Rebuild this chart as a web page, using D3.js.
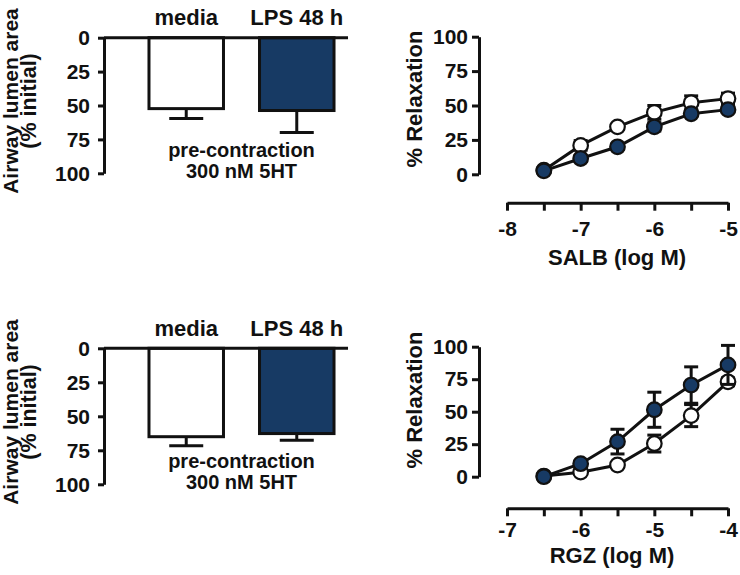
<!DOCTYPE html>
<html>
<head>
<meta charset="utf-8">
<script src="https://cdn.jsdelivr.net/npm/d3@7"></script>
<style>
  html, body { margin: 0; padding: 0; background: #fff; }
  svg text { font-family: "Liberation Sans", Arial, sans-serif; font-weight: bold; fill: #111; }
</style>
</head>
<body>
<svg id="chart" width="740" height="575"></svg>
<script>
// ---------- Data ----------
const barCategories = ["media", "LPS 48 h"];
const lumenTop = [52.3, 53.7];
const lumenTopErr = [7.3, 16.2];
const lumenBottom = [65, 62.7];
const lumenBottomErr = [6.6, 5];
const lumenTicks = [0, 25, 50, 75, 100];

const salbDoses = [-7.5, -7, -6.5, -6, -5.5, -5];
const salbMedia = [3, 21, 34.5, 45, 52, 55];
const salbMediaErr = [1, 3.5, 2, 5, 5, 4];
const salbLPS = [2.5, 11.5, 20, 34.5, 44, 47];
const salbLPSErr = [1.5, 2, 2, 3, 2, 2];
const salbTicks = [-8, -7, -6, -5];
const salbMinorTicks = [-8, -7.5, -7, -6.5, -6, -5.5, -5];

const rgzDoses = [-6.5, -6, -5.5, -5, -4.5, -4];
const rgzMedia = [0.5, 3.5, 9, 25.5, 47, 73];
const rgzMediaErr = [0.5, 1.5, 2, 6.5, 8.5, 3];
const rgzLPS = [0, 10, 27, 51.5, 70.5, 86];
const rgzLPSErr = [0.5, 2, 9.5, 13.5, 14, 15];
const rgzTicks = [-7, -6, -5, -4];
const rgzMinorTicks = [-7, -6.5, -6, -5.5, -5, -4.5, -4];

const relaxTicks = [0, 25, 50, 75, 100];

const NAVY = "#173a64";
const svg = d3.select("#chart");

// ---------- Bar panels ----------
function barPanel(opts) {
  const g = svg.append("g");
  const y = d3.scaleLinear().domain([0, 100]).range(opts.yRange);
  const x = d3.scaleBand().domain(barCategories).range([104, 379])
    .paddingInner(0.326).paddingOuter(0.407);
  const baseEnd = x(barCategories[1]) + x.bandwidth() + 14;

  const yAxis = d3.axisLeft(y).tickValues(lumenTicks).tickSize(6).tickPadding(8).tickSizeOuter(0);
  const ay = g.append("g").attr("transform", "translate(104,0)").call(yAxis);
  ay.select(".domain").attr("stroke", "#111").attr("stroke-width", 3);
  ay.selectAll(".tick line").attr("stroke", "#111").attr("stroke-width", 3);
  ay.selectAll(".tick text").style("font-size", "21px").attr("fill", "#111");

  const data = barCategories.map((c, i) => ({ c, v: opts.values[i], e: opts.errs[i], fill: i === 0 ? "#fff" : NAVY }));

  // error bars (downward only)
  g.selectAll(".err").data(data).join("line")
    .attr("x1", d => x(d.c) + x.bandwidth() / 2).attr("x2", d => x(d.c) + x.bandwidth() / 2)
    .attr("y1", d => y(d.v)).attr("y2", d => y(d.v + d.e))
    .attr("stroke", "#111").attr("stroke-width", 3);
  g.selectAll(".cap").data(data).join("line")
    .attr("x1", d => x(d.c) + x.bandwidth() / 2 - 17).attr("x2", d => x(d.c) + x.bandwidth() / 2 + 17)
    .attr("y1", d => y(d.v + d.e)).attr("y2", d => y(d.v + d.e))
    .attr("stroke", "#111").attr("stroke-width", 3);

  g.selectAll(".bar").data(data).join("rect")
    .attr("x", d => x(d.c)).attr("width", x.bandwidth())
    .attr("y", y(0)).attr("height", d => y(d.v) - y(0))
    .attr("fill", d => d.fill).attr("stroke", "#111").attr("stroke-width", 3);

  // baseline
  g.append("line").attr("x1", 104).attr("x2", baseEnd)
    .attr("y1", y(0)).attr("y2", y(0)).attr("stroke", "#111").attr("stroke-width", 3);

  // category labels
  g.selectAll(".cat").data(data).join("text")
    .attr("x", d => x(d.c) + x.bandwidth() / 2).attr("y", y(0) - 12.5)
    .attr("text-anchor", "middle").style("font-size", "22px").text(d => d.c);

  const cx = (104 + 379) / 2;
  g.append("text").attr("x", cx).attr("y", y(88)).attr("text-anchor", "middle")
    .style("font-size", "20px").text("pre-contraction");
  g.append("text").attr("x", cx).attr("y", y(103.5)).attr("text-anchor", "middle")
    .style("font-size", "20px").text("300 nM 5HT");

  const cy = opts.labelCenter;
  g.append("text").attr("transform", `translate(17.5,${cy}) rotate(-90)`)
    .attr("text-anchor", "middle").style("font-size", "21px").text("Airway lumen area");
  g.append("text").attr("transform", `translate(35.5,${cy}) rotate(-90)`)
    .attr("text-anchor", "middle").style("font-size", "21.5px").text("(% initial)");
}

barPanel({ yRange: [37.7, 173.3], values: lumenTop, errs: lumenTopErr, labelCenter: 101 });
barPanel({ yRange: [348.3, 484.3], values: lumenBottom, errs: lumenBottomErr, labelCenter: 412 });

// ---------- Dose-response panels ----------
function dosePanel(opts) {
  const g = svg.append("g");
  const x = d3.scaleLinear().domain(opts.xDomain).range([507, 728]);
  const y = d3.scaleLinear().domain([0, 100]).range(opts.yRange);

  const yAxis = d3.axisLeft(y).tickValues(relaxTicks).tickSize(7).tickPadding(4).tickSizeOuter(0);
  const ay = g.append("g").attr("transform", "translate(479,0)").call(yAxis);
  ay.select(".domain").attr("stroke", "#111").attr("stroke-width", 3);
  ay.selectAll(".tick line").attr("stroke", "#111").attr("stroke-width", 3);
  ay.selectAll(".tick text").style("font-size", "21px").attr("fill", "#111");

  const xMinor = d3.axisBottom(x).tickValues(opts.minorTicks).tickSize(8).tickFormat("").tickSizeOuter(0);
  const axm = g.append("g").attr("transform", `translate(0,${opts.xAxisY})`).call(xMinor);
  axm.select(".domain").attr("stroke", "#111").attr("stroke-width", 3);
  axm.selectAll(".tick line").attr("stroke", "#111").attr("stroke-width", 3);

  const xAxis = d3.axisBottom(x).tickValues(opts.ticks).tickSize(0).tickPadding(opts.labelPad)
    .tickFormat(d => String(d));
  const ax = g.append("g").attr("transform", `translate(0,${opts.xAxisY})`).call(xAxis);
  ax.select(".domain").remove();
  ax.selectAll(".tick text").style("font-size", "21px").attr("fill", "#111");

  g.append("text").attr("x", opts.titleX).attr("y", opts.titleY).attr("text-anchor", "middle")
    .style("font-size", "22px").text(opts.title);
  g.append("text").attr("transform", `translate(422,${opts.yLabelCenter}) rotate(-90)`)
    .attr("text-anchor", "middle").style("font-size", "22px").text("% Relaxation");

  const line = d3.line().x(d => x(d.d)).y(d => y(d.v));

  opts.series.forEach(s => {
    const pts = opts.doses.map((d, i) => ({ d, v: s.values[i], e: s.errs[i] }));
    const sg = g.append("g");
    sg.selectAll(".eb").data(pts).join("line")
      .attr("x1", d => x(d.d)).attr("x2", d => x(d.d))
      .attr("y1", d => y(d.v - d.e)).attr("y2", d => y(d.v + d.e))
      .attr("stroke", "#111").attr("stroke-width", 3);
    sg.selectAll(".cu").data(pts).join("line")
      .attr("x1", d => x(d.d) - 7).attr("x2", d => x(d.d) + 7)
      .attr("y1", d => y(d.v + d.e)).attr("y2", d => y(d.v + d.e))
      .attr("stroke", "#111").attr("stroke-width", 3);
    sg.selectAll(".cl").data(pts).join("line")
      .attr("x1", d => x(d.d) - 7).attr("x2", d => x(d.d) + 7)
      .attr("y1", d => y(d.v - d.e)).attr("y2", d => y(d.v - d.e))
      .attr("stroke", "#111").attr("stroke-width", 3);
    sg.append("path").datum(pts).attr("d", line)
      .attr("fill", "none").attr("stroke", "#111").attr("stroke-width", 3);
    sg.selectAll(".pt").data(pts).join("circle")
      .attr("cx", d => x(d.d)).attr("cy", d => y(d.v)).attr("r", 7.3)
      .attr("fill", s.fill).attr("stroke", "#111").attr("stroke-width", 2.2);
  });
}

dosePanel({
  xDomain: [-8, -5], yRange: [174.3, 36.7], xAxisY: 202.7, labelPad: 18,
  ticks: salbTicks, minorTicks: salbMinorTicks, doses: salbDoses,
  title: "SALB (log M)", titleX: 617, titleY: 265, yLabelCenter: 99,
  series: [
    { values: salbMedia, errs: salbMediaErr, fill: "#fff" },
    { values: salbLPS, errs: salbLPSErr, fill: NAVY }
  ]
});

dosePanel({
  xDomain: [-7, -4], yRange: [476.7, 346.7], xAxisY: 508.3, labelPad: 14,
  ticks: rgzTicks, minorTicks: rgzMinorTicks, doses: rgzDoses,
  title: "RGZ (log M)", titleX: 612, titleY: 563, yLabelCenter: 400,
  series: [
    { values: rgzMedia, errs: rgzMediaErr, fill: "#fff" },
    { values: rgzLPS, errs: rgzLPSErr, fill: NAVY }
  ]
});
</script>
</body>
</html>
